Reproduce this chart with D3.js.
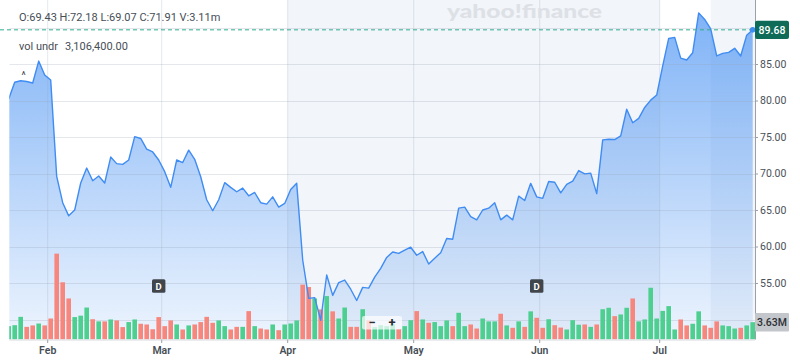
<!DOCTYPE html>
<html><head><meta charset="utf-8">
<script src="https://cdn.jsdelivr.net/npm/d3@7"></script>
<style>html,body{margin:0;padding:0;background:#fff;} svg{display:block;font-family:Roboto,"Open Sans",sans-serif;}</style>
</head><body><svg id="c" width="800" height="361"></svg>
<script>
// ---------- data ----------
const dates = [
"2025-01-23","2025-01-24","2025-01-27","2025-01-28","2025-01-29","2025-01-30","2025-01-31",
"2025-02-03","2025-02-04","2025-02-05","2025-02-06","2025-02-07","2025-02-10","2025-02-11","2025-02-12","2025-02-13","2025-02-14","2025-02-18","2025-02-19","2025-02-20","2025-02-21","2025-02-24","2025-02-25","2025-02-26","2025-02-27","2025-02-28",
"2025-03-03","2025-03-04","2025-03-05","2025-03-06","2025-03-07","2025-03-10","2025-03-11","2025-03-12","2025-03-13","2025-03-14","2025-03-17","2025-03-18","2025-03-19","2025-03-20","2025-03-21","2025-03-24","2025-03-25","2025-03-26","2025-03-27","2025-03-28","2025-03-31",
"2025-04-01","2025-04-02","2025-04-03","2025-04-04","2025-04-07","2025-04-08","2025-04-09","2025-04-10","2025-04-11","2025-04-14","2025-04-15","2025-04-16","2025-04-17","2025-04-21","2025-04-22","2025-04-23","2025-04-24","2025-04-25","2025-04-28","2025-04-29","2025-04-30",
"2025-05-01","2025-05-02","2025-05-05","2025-05-06","2025-05-07","2025-05-08","2025-05-09","2025-05-12","2025-05-13","2025-05-14","2025-05-15","2025-05-16","2025-05-19","2025-05-20","2025-05-21","2025-05-22","2025-05-23","2025-05-27","2025-05-28","2025-05-29","2025-05-30",
"2025-06-02","2025-06-03","2025-06-04","2025-06-05","2025-06-06","2025-06-09","2025-06-10","2025-06-11","2025-06-12","2025-06-13","2025-06-16","2025-06-17","2025-06-18","2025-06-20","2025-06-23","2025-06-24","2025-06-25","2025-06-26","2025-06-27","2025-06-30",
"2025-07-01","2025-07-02","2025-07-03","2025-07-07","2025-07-08","2025-07-09","2025-07-10","2025-07-11","2025-07-14","2025-07-15","2025-07-16","2025-07-17","2025-07-18","2025-07-21","2025-07-22","2025-07-23"
];
const closes = [
80.2,82.5,82.7,82.6,82.4,85.4,83.5,
82.8,69.6,66.0,64.2,65.0,68.7,70.75,69.0,69.65,68.7,72.25,71.35,71.25,71.85,75.05,74.8,73.35,72.95,71.85,
70.25,68.1,71.85,71.5,73.2,71.95,69.55,66.4,64.9,66.4,68.75,68.1,67.5,68.0,66.95,67.4,66.0,65.8,66.8,65.4,65.9,
67.8,68.65,58.15,52.9,53.0,49.9,56.1,53.3,55.05,55.4,54.15,52.6,54.4,54.3,55.8,57.0,58.5,59.25,59.05,59.5,59.9,
58.8,59.3,57.6,58.4,59.15,61.1,61.0,65.25,65.4,64.1,63.65,65.0,65.25,66.0,63.65,64.3,63.65,66.9,66.3,68.65,66.8,
66.6,68.9,68.8,67.35,68.5,68.95,70.4,69.95,70.05,67.25,74.6,74.7,74.65,75.15,78.8,76.95,77.55,79.05,80.05,80.75,
84.75,88.5,88.65,85.8,85.55,86.55,92.0,91.1,89.8,86.1,86.45,86.6,87.15,86.1,88.95,89.68
];
// volume in millions
const volumes = [
2.8,3.0,4.75,2.65,2.95,3.35,2.95,
4.4,18.0,12.0,8.6,4.7,5.0,6.7,4.25,3.8,3.8,4.2,4.0,2.6,3.65,4.2,3.3,3.15,2.15,4.7,
2.8,4.0,3.15,2.1,2.95,3.15,3.65,4.75,3.5,4.0,2.8,2.1,2.65,2.65,5.95,2.8,2.3,2.1,3.15,1.95,3.15,
3.35,4.0,11.5,11.0,8.6,6.3,9.1,5.9,4.4,6.7,2.65,2.65,6.35,4.0,2.6,3.0,2.8,3.2,2.2,2.8,4.05,
5.95,4.2,3.5,3.65,2.8,4.0,2.8,5.6,2.8,3.15,2.3,4.4,3.8,3.8,5.4,2.95,2.45,3.8,2.65,5.9,4.55,
2.45,4.25,3.0,2.5,2.1,4.05,3.1,3.15,2.65,3.15,6.35,6.65,4.9,5.25,6.65,8.6,3.8,4.2,10.85,4.4,
6.0,7.0,2.1,4.2,2.95,3.3,5.9,2.95,2.45,3.8,2.95,2.8,2.3,2.45,2.95,3.63
];
const gridTicks = [50,55,60,65,70,75,80,85,90];
const labelTicks = [55,60,65,70,75,80,85];
const monthStarts = ["2025-02-03","2025-03-03","2025-04-01","2025-05-01","2025-06-02","2025-07-01"];
const monthLabels = ["Feb","Mar","Apr","May","Jun","Jul"];
const dividendDates = ["2025-02-28","2025-05-30"];
const shadedFrom = ["2025-04-01","2025-07-14"];
const shadedTo = ["2025-07-01", null];
const eventDates = ["2025-01-27"];
const ohlcText = "O:69.43 H:72.18 L:69.07 C:71.91 V:3.11m";
const volUndrLabel = "vol undr";
const volUndrValue = "3,106,400.00";
const lastPriceLabel = "89.68";
const lastVolLabel = "3.63M";
const watermark = "yahoo!finance";

// ---------- layout ----------
const W = 800, H = 361;
const plotL = 9.3, plotR = 755, plotT = 0, plotB = 339.5;

const svg = d3.select("#c");
const data = dates.map((d,i)=>({date:d, close:closes[i], vol:volumes[i], up: i===0 ? true : closes[i] >= closes[i-1]}));

const xb = d3.scaleBand().domain(dates).range([5.7, 755.7]).padding(0);
const bw = xb.bandwidth();
const xc = d => xb(d) + bw/2;
const y = d3.scaleLinear().domain([50, 85]).range([319.5, 64]);
const yv = d3.scaleLinear().domain([0, 20]).range([plotB, plotB - 95.4]);

const defs = svg.append("defs");
defs.append("clipPath").attr("id","clip").append("rect")
  .attr("x", plotL).attr("y", plotT).attr("width", plotR-plotL).attr("height", plotB-plotT);
const grad = defs.append("linearGradient").attr("id","fillg")
  .attr("gradientUnits","userSpaceOnUse").attr("x1",0).attr("x2",0).attr("y1",0).attr("y2",plotB);
grad.append("stop").attr("offset",0).attr("stop-color","#3d8bf2").attr("stop-opacity",0.68);
grad.append("stop").attr("offset",1).attr("stop-color","#3d8bf2").attr("stop-opacity",0.09);

svg.append("rect").attr("width",W).attr("height",H).attr("fill","#fff");

const plot = svg.append("g").attr("clip-path","url(#clip)");

// shaded background regions
plot.selectAll("rect.shade").data(shadedFrom.map((f,i)=>({f, t:shadedTo[i]}))).join("rect")
  .attr("class","shade")
  .attr("x", d => d.t ? xb(d.f) : xc(d.f))
  .attr("width", d => (d.t ? xb(d.t) : plotR) - (d.t ? xb(d.f) : xc(d.f)))
  .attr("y", plotT).attr("height", plotB-plotT)
  .attr("fill","#f2f5f9");

// area
plot.append("path").datum(data)
  .attr("d", d3.area().x(d=>xc(d.date)).y0(plotB).y1(d=>y(d.close)))
  .attr("fill","url(#fillg)");

// gridlines
const gridCol = "rgba(150,162,180,0.26)";
plot.selectAll("line.hg").data(gridTicks).join("line")
  .attr("x1", plotL).attr("x2", plotR).attr("y1", d=>Math.round(y(d))+0.5).attr("y2", d=>Math.round(y(d))+0.5)
  .attr("stroke", gridCol);
plot.selectAll("line.vg").data(monthStarts).join("line")
  .attr("x1", d=>xb(d)).attr("x2", d=>xb(d)).attr("y1", plotT).attr("y2", plotB)
  .attr("stroke", gridCol);

// volume bars
plot.selectAll("rect.vol").data(data).join("rect")
  .attr("x", d=>xb(d.date)+0.7).attr("width", bw-1.4)
  .attr("y", d=>yv(d.vol)).attr("height", d=>plotB - yv(d.vol))
  .attr("fill", d=> d.up ? "#4ccf8f" : "#f7867d");

// price line
plot.append("path").datum(data)
  .attr("d", d3.line().x(d=>xc(d.date)).y(d=>y(d.close)))
  .attr("fill","none").attr("stroke","#3f8cf3").attr("stroke-width",1.4).attr("stroke-linejoin","round");

// event caret
svg.selectAll("text.evt").data(eventDates).join("text")
  .attr("x", d=>xb(d)+bw).attr("y", 79).attr("text-anchor","middle")
  .attr("font-size",10).attr("fill","#3c4248").text("^");

// watermark
svg.append("text").attr("x", 447).attr("y", 18).attr("font-family","Lato, 'Open Sans', sans-serif")
  .attr("font-weight",900).attr("font-size",19).attr("fill","#dde1e6")
  .attr("textLength",155).attr("lengthAdjust","spacingAndGlyphs").text(watermark);

// last price dashed line
const last = data[data.length-1];
svg.append("line").attr("x1",0).attr("x2",plotR).attr("y1",y(last.close)).attr("y2",y(last.close))
  .attr("stroke","#2fae8e").attr("stroke-width",1).attr("stroke-dasharray","4,3");

// end dot
svg.append("circle").attr("cx", xc(last.date)).attr("cy", y(last.close)).attr("r",2.8).attr("fill","#3f8cf3");

// right axis
const yAxis = d3.axisRight(y).tickValues(labelTicks).tickFormat(d3.format(".2f")).tickSize(3).tickPadding(2);
const ga = svg.append("g").attr("transform",`translate(${plotR},0)`).call(yAxis);
ga.select(".domain").remove();
ga.selectAll(".tick line").attr("stroke","#9aa0a6");
ga.selectAll(".tick text").attr("font-size",10.5).attr("fill","#4a5058").attr("font-family","Roboto, sans-serif");
svg.append("line").attr("x1",plotR+0.5).attr("x2",plotR+0.5).attr("y1",0).attr("y2",plotB)
  .attr("stroke","#9aa0a6");

// bottom axis
svg.append("line").attr("x1",plotL).attr("x2",plotR).attr("y1",plotB+0.5).attr("y2",plotB+0.5).attr("stroke","#d5d9de");
svg.selectAll("line.mt").data(monthStarts).join("line")
  .attr("x1", d=>xb(d)).attr("x2", d=>xb(d)).attr("y1", plotB).attr("y2", plotB+3.5).attr("stroke","#9aa0a6");
svg.selectAll("text.ml").data(monthStarts).join("text")
  .attr("x", d=>xb(d)).attr("y", 354).attr("text-anchor","middle")
  .attr("font-size",10.5).attr("font-weight",600).attr("fill","#464e56")
  .text((d,i)=>monthLabels[i]);

// dividend markers
const dg = svg.selectAll("g.div").data(dividendDates).join("g")
  .attr("transform", d=>`translate(${xc(d)},286)`);
dg.append("rect").attr("x",-6.7).attr("y",-6.7).attr("width",13.4).attr("height",13.4).attr("rx",1.5).attr("fill","#41464c");
dg.append("text").attr("text-anchor","middle").attr("y",3.5).attr("font-size",9.5).attr("font-weight",700)
  .attr("fill","#fff").text("D");

// zoom control
const zc = svg.append("g").attr("transform","translate(362,316)");
zc.append("rect").attr("width",40).attr("height",13.5).attr("rx",2).attr("fill","rgba(255,255,255,0.7)");
zc.append("text").attr("x",10).attr("y",11).attr("text-anchor","middle").attr("font-size",13).attr("font-weight",700).attr("fill","#2b2f33").text("\u2212");
zc.append("text").attr("x",30).attr("y",11).attr("text-anchor","middle").attr("font-size",13).attr("font-weight",700).attr("fill","#2b2f33").text("+");

// tags
const pt = svg.append("g").attr("transform",`translate(${plotR},${y(last.close)})`);
pt.append("rect").attr("x",0).attr("y",-9.2).attr("width",34).attr("height",18.4).attr("rx",2).attr("fill","#0e6b57");
pt.append("text").attr("x",17).attr("y",3.8).attr("text-anchor","middle").attr("font-size",10.5).attr("font-weight",500)
  .attr("fill","#fff").text(lastPriceLabel);
const vt = svg.append("g").attr("transform",`translate(${plotR},${yv(last.vol)})`);
vt.append("rect").attr("x",0).attr("y",-9.2).attr("width",34).attr("height",18.4).attr("rx",1).attr("fill","#c3c6cb");
vt.append("text").attr("x",17).attr("y",3.8).attr("text-anchor","middle").attr("font-size",10.5).attr("font-weight",500)
  .attr("fill","#2c3035").text(lastVolLabel);

// header texts
svg.append("text").attr("x",19).attr("y",20.5).attr("font-size",11).attr("fill","#464e56").text(ohlcText);
svg.append("text").attr("x",19).attr("y",50).attr("font-size",11).attr("fill","#464e56").text(volUndrLabel);
svg.append("text").attr("x",65).attr("y",50).attr("font-size",11).attr("fill","#464e56").text(volUndrValue);
</script></body></html>
